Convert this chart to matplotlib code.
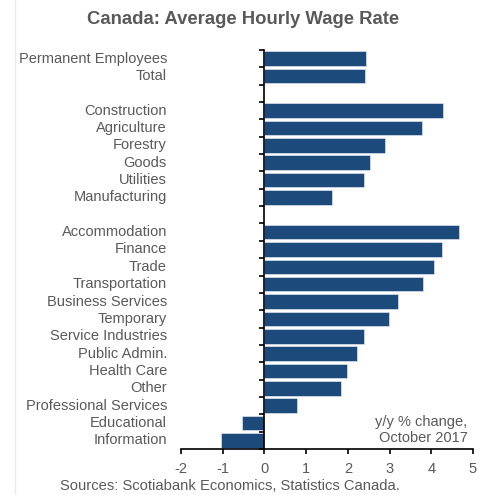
import matplotlib
matplotlib.use("Agg")
import matplotlib.pyplot as plt
from matplotlib.lines import Line2D
import numpy as np

plt.rcParams["font.family"] = ["Liberation Sans", "DejaVu Sans"]

# Data (y/y % change, October 2017); None marks a blank spacer row
labels = ["Permanent Employees", "Total", None,
          "Construction", "Agriculture", "Forestry", "Goods", "Utilities",
          "Manufacturing", None,
          "Accommodation", "Finance", "Trade", "Transportation",
          "Business Services", "Temporary", "Service Industries",
          "Public Admin.", "Health Care", "Other", "Professional Services",
          "Educational", "Information"]
values = [2.43, 2.42, None,
          4.29, 3.78, 2.90, 2.53, 2.39, 1.62, None,
          4.67, 4.25, 4.07, 3.80, 3.21, 2.98, 2.39, 2.22, 1.97, 1.84,
          0.78, -0.54, -1.04]
xticks = [-2, -1, 0, 1, 2, 3, 4, 5]

bar_color = "#1c4a7a"
text_color = "#595959"

fig = plt.figure(figsize=(4.87, 4.95), dpi=100)
ax = fig.add_axes([181 / 487, 1 - 449 / 495, 292 / 487, 399 / 495])

n = len(labels)
ypos = np.arange(n)
for y, lab, v in zip(ypos, labels, values):
    if lab is None:
        continue
    ax.barh(y, v, height=0.84, color=bar_color, edgecolor="#dbe3ee", linewidth=0.5)
    ax.text(-0.048, y, lab, transform=ax.get_yaxis_transform(), ha="right",
            va="center", fontsize=10.5, color=text_color)

ax.set_xlim(-2, 5)
ax.set_ylim(n - 0.5, -0.5)

ax.spines["top"].set_visible(False)
ax.spines["right"].set_visible(False)
ax.spines["left"].set_position(("data", 0))
ax.spines["left"].set_linewidth(1.2)
ax.spines["bottom"].set_linewidth(1.2)

ax.set_yticks(np.arange(-0.5, n, 1.0))
ax.set_yticklabels([])
ax.tick_params(axis="y", direction="out", length=3.5, width=1.2)

ax.set_xticks(xticks)
ax.set_xticklabels([str(t) for t in xticks])
ax.tick_params(axis="x", direction="out", length=3.5, width=1.2,
               labelsize=10.5, labelcolor=text_color, pad=6)

ax.text(4.87, n - 1.6, "y/y % change,\nOctober 2017", ha="right", va="center",
        fontsize=10.5, color=text_color, linespacing=1.15)

fig.text(0.500, 1 - 20 / 495, "Canada: Average Hourly Wage Rate", ha="center",
         va="center", fontsize=13.3, fontweight="bold", color=text_color)
fig.text(230 / 487, 1 - 486 / 495, "Sources: Scotiabank Economics, Statistics Canada.",
         ha="center", va="center", fontsize=10.6, color=text_color)

fig.add_artist(Line2D([14.5 / 487, 14.5 / 487], [0, 1], color="#ececec", linewidth=1))

fig.savefig("out.png", dpi=100)
